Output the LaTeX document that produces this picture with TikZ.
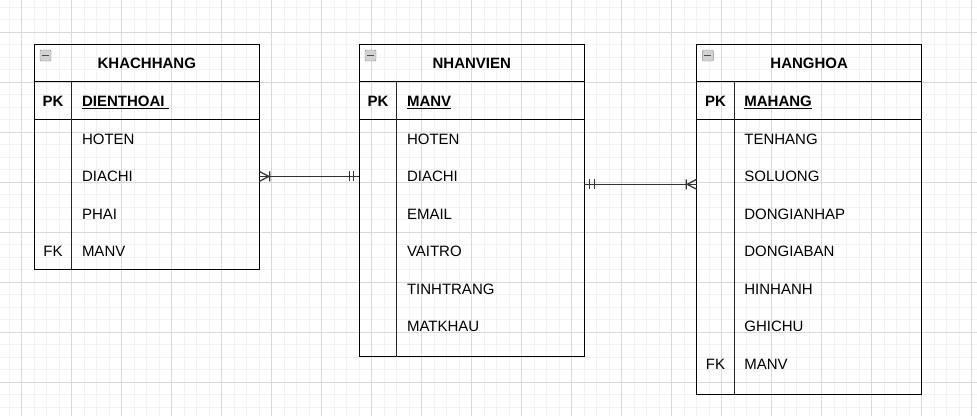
\documentclass[tikz,border=0pt]{standalone}
\usepackage{fontspec}
\setmainfont{Liberation Sans}
\usetikzlibrary{
    positioning,
    calc,
}
\newcommand{\erfont}{\fontsize{15}{18}\selectfont}

\begin{document}
\begin{tikzpicture}[
    x=1pt, y=-1pt,
    minorgrid/.style={line width=1pt, black!5},
    majorgrid/.style={line width=1pt, black!15},
    entity/.style={draw, line width=1.25pt, minimum width=225pt, inner sep=0pt, outer sep=0pt},
    header/.style={entity, minimum height=37.5pt, anchor=north west, font=\erfont\bfseries},
    keyrow/.style={entity, minimum height=37.5pt},
    body/.style={entity},
    divider/.style={line width=1.25pt, black!85},
    keylabel/.style={inner sep=0pt, font=\erfont\bfseries},
    fklabel/.style={inner sep=0pt, font=\erfont},
    keyfield/.style={inner sep=0pt, anchor=base west, font=\erfont\bfseries},
    field/.style={inner sep=0pt, anchor=west, font=\erfont},
    collapse/.style={draw=gray!90, fill=gray!35, rounded corners=1pt, minimum size=11pt, inner sep=0pt,
                path picture={\draw[line width=1.6pt, black!70]
                ([xshift=-3.5pt]path picture bounding box.center) -- ([xshift=3.5pt]path picture bounding box.center);}},
    erline/.style={line width=1.25pt, black!80},
    crowsfoot/.pic={\draw[erline] (0,-5) -- (9.5,0) -- (0,5) (10.5,-5) -- (10.5,5);},
    mandone/.pic={\draw[erline] (5.5,-5) -- (5.5,5) (10,-5) -- (10,5);},
]

\useasboundingbox (0,0) rectangle (977,416);

% Grid
\foreach \k in {0,...,77} \draw[minorgrid] (9.2+12.5*\k,0) -- (9.2+12.5*\k,416);
\foreach \k in {0,...,32} \draw[minorgrid] (0,7.3+12.5*\k) -- (977,7.3+12.5*\k);
\foreach \k in {0,...,19} \draw[majorgrid] (21.7+50*\k,0) -- (21.7+50*\k,416);
\foreach \k in {0,...,7} \draw[majorgrid] (0,32.3+50*\k) -- (977,32.3+50*\k);

% KHACHHANG
\node[header] (KhachHang) at (34.3,44.3) {KHACHHANG};
\node[collapse] at ($(KhachHang.north west)+(11.2,11.2)$) {};
\node[keyrow, below=0pt of KhachHang] (KhachHangKey) {};
\node[body, minimum height=150pt, below=0pt of KhachHangKey] (KhachHangBody) {};
\draw[divider] ([xshift=37.5pt]KhachHangKey.north west) -- ([xshift=37.5pt]KhachHangBody.south west);
\node[keylabel] at ([xshift=18.75pt,yshift=-0.8pt]KhachHangKey.west) {PK};
\node[keyfield] (KhachHang-0) at ([xshift=47.5pt,yshift=-6.2pt]KhachHangKey.west) {\underline{DIENTHOAI\ }};
\foreach \field [count=\i] in {HOTEN,DIACHI,PHAI,MANV}
    \node[field] (KhachHang-\i) at ($(KhachHangBody.north west)+(47.5,37.5*\i-17.9)$) {\field};
\node[fklabel] at ($(KhachHangBody.north west)+(18.75,132.1)$) {FK};

% NHANVIEN
\node[header] (NhanVien) at (359.3,44.3) {NHANVIEN};
\node[collapse] at ($(NhanVien.north west)+(11.2,11.2)$) {};
\node[keyrow, below=0pt of NhanVien] (NhanVienKey) {};
\node[body, minimum height=237.5pt, below=0pt of NhanVienKey] (NhanVienBody) {};
\draw[divider] ([xshift=37.5pt]NhanVienKey.north west) -- ([xshift=37.5pt]NhanVienBody.south west);
\node[keylabel] at ([xshift=18.75pt,yshift=-0.8pt]NhanVienKey.west) {PK};
\node[keyfield] (NhanVien-0) at ([xshift=47.5pt,yshift=-6.2pt]NhanVienKey.west) {\underline{MANV}};
\foreach \field [count=\i] in {HOTEN,DIACHI,EMAIL,VAITRO,TINHTRANG,MATKHAU}
    \node[field] (NhanVien-\i) at ($(NhanVienBody.north west)+(47.5,37.5*\i-17.9)$) {\field};

% HANGHOA
\node[header] (HangHoa) at (696.7,44.3) {HANGHOA};
\node[collapse] at ($(HangHoa.north west)+(11.2,11.2)$) {};
\node[keyrow, below=0pt of HangHoa] (HangHoaKey) {};
\node[body, minimum height=275pt, below=0pt of HangHoaKey] (HangHoaBody) {};
\draw[divider] ([xshift=37.5pt]HangHoaKey.north west) -- ([xshift=37.5pt]HangHoaBody.south west);
\node[keylabel] at ([xshift=18.75pt,yshift=-0.8pt]HangHoaKey.west) {PK};
\node[keyfield] (HangHoa-0) at ([xshift=47.5pt,yshift=-6.2pt]HangHoaKey.west) {\underline{MAHANG}};
\foreach \field [count=\i] in {TENHANG,SOLUONG,DONGIANHAP,DONGIABAN,HINHANH,GHICHU,MANV}
    \node[field] (HangHoa-\i) at ($(HangHoaBody.north west)+(47.5,37.5*\i-17.9)$) {\field};
\node[fklabel] at ($(HangHoaBody.north west)+(18.75,244.6)$) {FK};

% Lines
\draw[erline] (KhachHangBody.east |- KhachHang-2) -- (NhanVienBody.west |- KhachHang-2);
\pic at (KhachHangBody.east |- KhachHang-2) {crowsfoot};
\pic[rotate=180] at (NhanVienBody.west |- KhachHang-2) {mandone};

\coordinate (HangHoaLink) at (640,184.3);
\draw[erline] (NhanVienBody.east |- HangHoaLink) -- (HangHoaBody.west |- HangHoaLink);
\pic at (NhanVienBody.east |- HangHoaLink) {mandone};
\pic[rotate=180] at (HangHoaBody.west |- HangHoaLink) {crowsfoot};

\end{tikzpicture}
\end{document}
